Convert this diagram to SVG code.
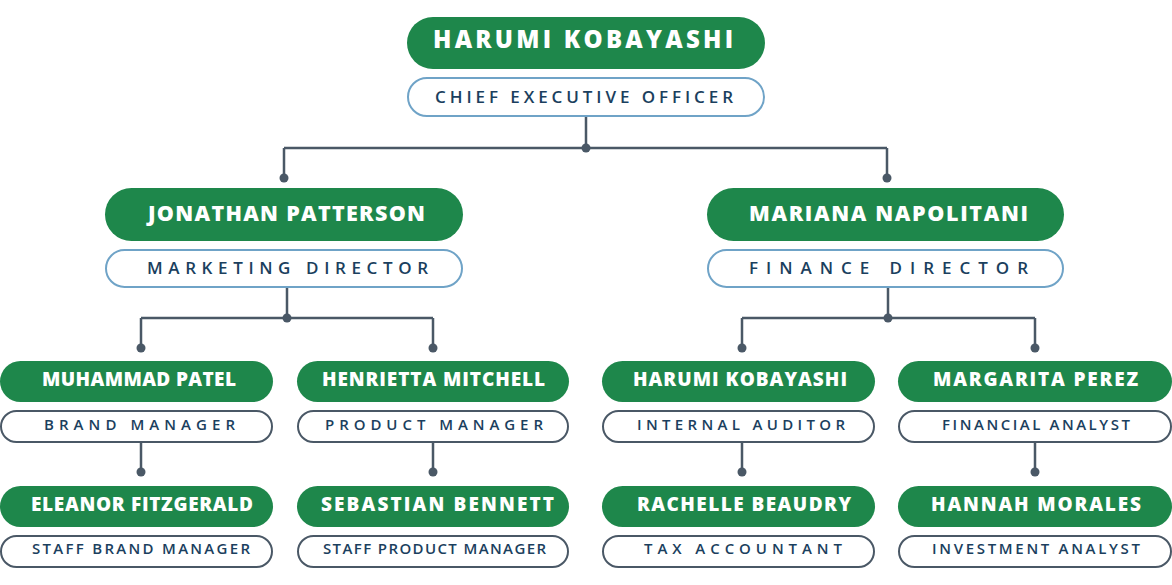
<svg xmlns="http://www.w3.org/2000/svg" width="1172" height="585" viewBox="0 0 1172 585">
<style>
.pill{fill:#1e874b}
.tb{fill:#fff;stroke:#6fa3c7;stroke-width:2}
.tb3{fill:#fff;stroke:#4a5866;stroke-width:2}
.nm{font-family:"Open Sans","DejaVu Sans",sans-serif;font-weight:800;fill:#fff;text-anchor:middle}
.tt{font-family:"Open Sans","DejaVu Sans",sans-serif;font-weight:600;fill:#1b3f5e;text-anchor:middle}
.n1{font-size:24px}.n2{font-size:21.5px}.n3{font-size:19px}.t1{font-size:17px}.t3{font-size:15px}
.ln{fill:none;stroke:#4a5866;stroke-width:2.5}
.dot{fill:#4a5866}
</style>
<rect width="1172" height="585" fill="#fff"/>
<g id="connectors">
<path class="ln" d="M586 116V148M284 148H887M284 148V178M887 148V178"/>
<path class="ln" d="M287 287V318M141 318H433M141 318V348M433 318V348"/>
<path class="ln" d="M888 287V318M742 318H1035M742 318V348M1035 318V348"/>
<path class="ln" d="M141 442V472M433 442V472M742 442V472M1035 442V472"/>
<circle class="dot" cx="586" cy="148" r="4.5"/>
<circle class="dot" cx="284" cy="178" r="4.5"/>
<circle class="dot" cx="887" cy="178" r="4.5"/>
<circle class="dot" cx="287" cy="318" r="4.5"/>
<circle class="dot" cx="888" cy="318" r="4.5"/>
<circle class="dot" cx="141" cy="348" r="4.5"/>
<circle class="dot" cx="433" cy="348" r="4.5"/>
<circle class="dot" cx="742" cy="348" r="4.5"/>
<circle class="dot" cx="1035" cy="348" r="4.5"/>
<circle class="dot" cx="141" cy="472" r="4.5"/>
<circle class="dot" cx="433" cy="472" r="4.5"/>
<circle class="dot" cx="742" cy="472" r="4.5"/>
<circle class="dot" cx="1035" cy="472" r="4.5"/>
</g>
<g id="ceo">
<rect class="pill" x="407" y="17" width="358" height="52" rx="26"/>
<text class="nm n1" x="583" y="48" textLength="300" lengthAdjust="spacing">HARUMI KOBAYASHI</text>
<rect class="tb" x="408" y="78" width="356" height="38" rx="19"/>
<text class="tt t1" x="584" y="103" textLength="298" lengthAdjust="spacing">CHIEF EXECUTIVE OFFICER</text>
</g>
<g id="marketing-director">
<rect class="pill" x="105" y="188" width="358" height="53" rx="26.5"/>
<text class="nm n2" x="286.5" y="221" textLength="277" lengthAdjust="spacing">JONATHAN PATTERSON</text>
<rect class="tb" x="106" y="250" width="356" height="37" rx="18.5"/>
<text class="tt t1" x="287.5" y="274" textLength="281" lengthAdjust="spacing">MARKETING DIRECTOR</text>
</g>
<g id="finance-director">
<rect class="pill" x="707" y="188" width="357" height="53" rx="26.5"/>
<text class="nm n2" x="888.5" y="221" textLength="279" lengthAdjust="spacing">MARIANA NAPOLITANI</text>
<rect class="tb" x="708" y="250" width="355" height="37" rx="18.5"/>
<text class="tt t1" x="888.5" y="274" textLength="279" lengthAdjust="spacing">FINANCE DIRECTOR</text>
</g>
<g id="brand-manager">
<rect class="pill" x="0" y="361" width="273" height="41" rx="20.5"/>
<text class="nm n3" x="139" y="386" textLength="194" lengthAdjust="spacing">MUHAMMAD PATEL</text>
<rect class="tb3" x="1" y="411" width="271" height="31" rx="15.5"/>
<text class="tt t3" x="139.5" y="430" textLength="191" lengthAdjust="spacing">BRAND MANAGER</text>
</g>
<g id="staff-brand-manager">
<rect class="pill" x="0" y="486" width="273" height="41" rx="20.5"/>
<text class="nm n3" x="142" y="511" textLength="222" lengthAdjust="spacing">ELEANOR FITZGERALD</text>
<rect class="tb3" x="1" y="536" width="271" height="31" rx="15.5"/>
<text class="tt t3" x="141" y="554" textLength="218" lengthAdjust="spacing">STAFF BRAND MANAGER</text>
</g>
<g id="product-manager">
<rect class="pill" x="297" y="361" width="272" height="41" rx="20.5"/>
<text class="nm n3" x="433.5" y="386" textLength="223" lengthAdjust="spacing">HENRIETTA MITCHELL</text>
<rect class="tb3" x="298" y="411" width="270" height="31" rx="15.5"/>
<text class="tt t3" x="434" y="429.5" textLength="218" lengthAdjust="spacing">PRODUCT MANAGER</text>
</g>
<g id="staff-product-manager">
<rect class="pill" x="297" y="486" width="272" height="41" rx="20.5"/>
<text class="nm n3" x="437.5" y="511" textLength="233" lengthAdjust="spacing">SEBASTIAN BENNETT</text>
<rect class="tb3" x="298" y="536" width="270" height="31" rx="15.5"/>
<text class="tt t3" x="434.5" y="554" textLength="223" lengthAdjust="spacing">STAFF PRODUCT MANAGER</text>
</g>
<g id="internal-auditor">
<rect class="pill" x="602" y="361" width="273" height="41" rx="20.5"/>
<text class="nm n3" x="740" y="386" textLength="214" lengthAdjust="spacing">HARUMI KOBAYASHI</text>
<rect class="tb3" x="603" y="411" width="271" height="31" rx="15.5"/>
<text class="tt t3" x="741" y="430" textLength="208" lengthAdjust="spacing">INTERNAL AUDITOR</text>
</g>
<g id="tax-accountant">
<rect class="pill" x="602" y="486" width="273" height="41" rx="20.5"/>
<text class="nm n3" x="744" y="511" textLength="214" lengthAdjust="spacing">RACHELLE BEAUDRY</text>
<rect class="tb3" x="603" y="536" width="271" height="31" rx="15.5"/>
<text class="tt t3" x="743" y="554" textLength="198" lengthAdjust="spacing">TAX ACCOUNTANT</text>
</g>
<g id="financial-analyst">
<rect class="pill" x="898" y="361" width="274" height="41" rx="20.5"/>
<text class="nm n3" x="1035.5" y="386" textLength="205" lengthAdjust="spacing">MARGARITA PEREZ</text>
<rect class="tb3" x="899" y="411" width="272" height="31" rx="15.5"/>
<text class="tt t3" x="1036" y="430" textLength="188" lengthAdjust="spacing">FINANCIAL ANALYST</text>
</g>
<g id="investment-analyst">
<rect class="pill" x="898" y="486" width="274" height="41" rx="20.5"/>
<text class="nm n3" x="1036" y="511" textLength="210" lengthAdjust="spacing">HANNAH MORALES</text>
<rect class="tb3" x="899" y="536" width="272" height="31" rx="15.5"/>
<text class="tt t3" x="1036" y="554" textLength="208" lengthAdjust="spacing">INVESTMENT ANALYST</text>
</g>
</svg>
